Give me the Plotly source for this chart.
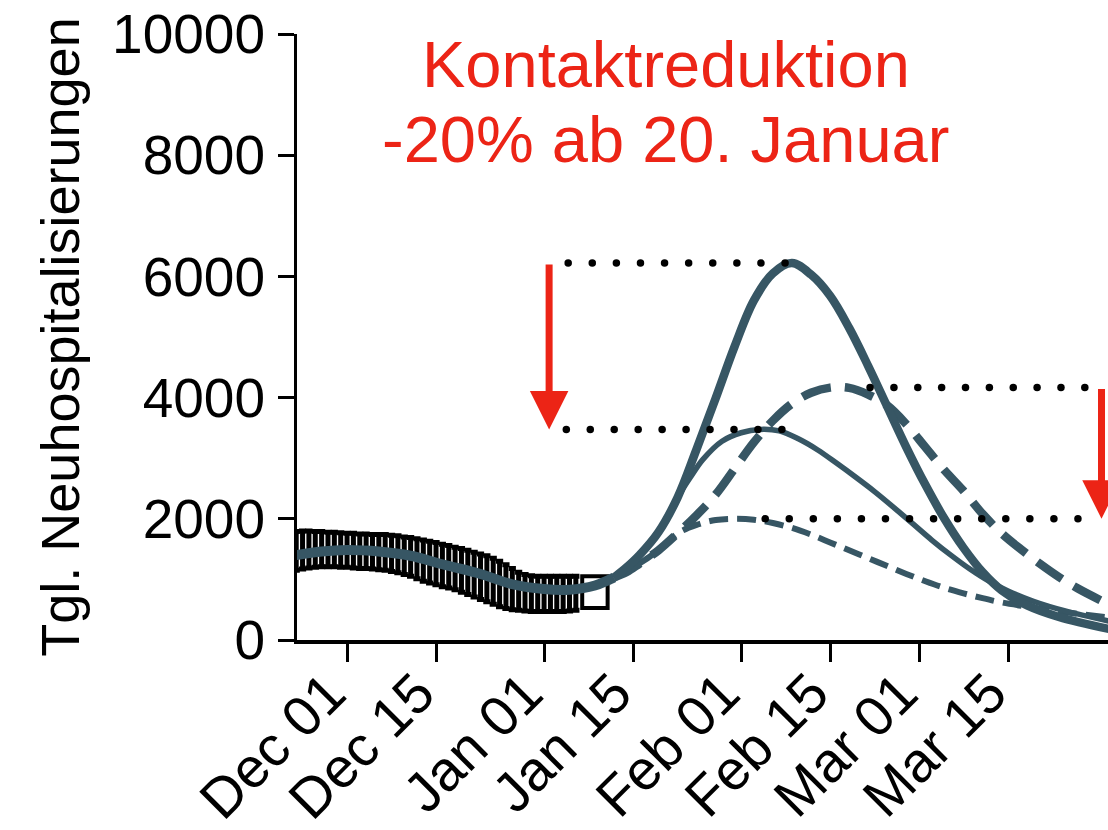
import pandas as pd
import plotly.graph_objects as go

FONT = "Liberation Sans, Arial, Helvetica, sans-serif"
CURVE = "#375664"
RED = "#EC2416"

# Reported daily admissions: lower / upper bound per day from 23 Nov 2020
obs_start = "2020-11-23"
obs_low = [1150, 1170, 1190, 1200, 1210, 1210, 1210, 1200, 1200, 1190,
           1180, 1180, 1170, 1160, 1150, 1130, 1110, 1080, 1050, 1010,
           970, 940, 910, 880, 860, 830, 790, 750, 710, 670,
           630, 590, 550, 520, 500, 490, 480, 470, 470, 470,
           470, 470, 470, 480, 490]
obs_high = [1790, 1800, 1800, 1790, 1790, 1780, 1780, 1770, 1760, 1760,
            1750, 1750, 1740, 1740, 1740, 1730, 1720, 1700, 1690, 1670,
            1650, 1630, 1610, 1580, 1560, 1530, 1510, 1480, 1450, 1420,
            1390, 1350, 1300, 1240, 1180, 1120, 1080, 1060, 1050, 1050,
            1050, 1050, 1050, 1050, 1050]

# Most recent, still incomplete reporting window
recent_window = ["2021-01-07", "2021-01-11"]
recent_low = 530
recent_high = 1050

# Model fit to the reported period
fit_dates = ["2020-11-23", "2020-11-27", "2020-12-01", "2020-12-06", "2020-12-11",
             "2020-12-16", "2020-12-22", "2020-12-27", "2021-01-01", "2021-01-05",
             "2021-01-09", "2021-01-12"]
fit_vals = [1400, 1460, 1485, 1460, 1390, 1250, 1090, 920, 840, 830, 900, 1030]

# Scenario A, without contact reduction
a_dates = ["2021-01-12", "2021-01-14", "2021-01-16", "2021-01-19", "2021-01-22",
           "2021-01-25", "2021-01-28", "2021-01-31", "2021-02-03", "2021-02-06",
           "2021-02-09", "2021-02-12", "2021-02-15", "2021-02-18", "2021-02-21",
           "2021-02-24", "2021-02-27", "2021-03-02", "2021-03-05", "2021-03-08",
           "2021-03-11", "2021-03-14", "2021-03-18", "2021-03-23", "2021-03-31"]
a_vals = [1030, 1200, 1400, 1780, 2350, 3150, 3990, 4850, 5600, 6050,
          6220, 6030, 5680, 5150, 4520, 3850, 3180, 2560, 2000, 1520,
          1120, 820, 570, 380, 180]

# Scenario A, contact reduction -20% from 20 January
a_red_dates = ["2021-01-12", "2021-01-14", "2021-01-16", "2021-01-19", "2021-01-22",
               "2021-01-24", "2021-01-26", "2021-01-29", "2021-02-01", "2021-02-04",
               "2021-02-07", "2021-02-10", "2021-02-13", "2021-02-16", "2021-02-19",
               "2021-02-22", "2021-02-25", "2021-02-28", "2021-03-03", "2021-03-06",
               "2021-03-09", "2021-03-12", "2021-03-15", "2021-03-19", "2021-03-24",
               "2021-03-31"]
a_red_vals = [1030, 1200, 1400, 1780, 2350, 2680, 2980, 3280, 3420, 3475,
              3450, 3320, 3140, 2920, 2690, 2450, 2190, 1920, 1650, 1400,
              1170, 970, 810, 640, 480, 310]

# Scenario B, without contact reduction
b_dates = ["2021-01-12", "2021-01-14", "2021-01-16", "2021-01-19", "2021-01-22",
           "2021-01-25", "2021-01-28", "2021-01-31", "2021-02-03", "2021-02-06",
           "2021-02-09", "2021-02-12", "2021-02-15", "2021-02-18", "2021-02-21",
           "2021-02-24", "2021-02-27", "2021-03-02", "2021-03-05", "2021-03-08",
           "2021-03-11", "2021-03-14", "2021-03-17", "2021-03-20", "2021-03-23",
           "2021-03-26", "2021-03-31"]
b_vals = [1030, 1120, 1260, 1480, 1760, 2060, 2400, 2830, 3260, 3620,
          3900, 4080, 4165, 4160, 4050, 3870, 3560, 3180, 2800, 2460,
          2080, 1760, 1500, 1260, 1040, 850, 580]

# Scenario B, contact reduction -20% from 20 January
b_red_dates = ["2021-01-12", "2021-01-14", "2021-01-16", "2021-01-19", "2021-01-22",
               "2021-01-25", "2021-01-28", "2021-01-31", "2021-02-03", "2021-02-06",
               "2021-02-09", "2021-02-12", "2021-02-15", "2021-02-18", "2021-02-21",
               "2021-02-24", "2021-02-27", "2021-03-02", "2021-03-05", "2021-03-08",
               "2021-03-11", "2021-03-14", "2021-03-18", "2021-03-23", "2021-03-31"]
b_red_vals = [1030, 1120, 1260, 1480, 1760, 1900, 1980, 2000, 1985, 1930,
              1850, 1740, 1610, 1480, 1350, 1220, 1090, 970, 860, 770,
              690, 620, 550, 470, 370]

tick_dates = ["2020-12-01", "2020-12-15", "2021-01-01", "2021-01-15",
              "2021-02-01", "2021-02-15", "2021-03-01", "2021-03-15"]
tick_labels = ["Dec 01", "Dec 15", "Jan 01", "Jan 15",
               "Feb 01", "Feb 15", "Mar 01", "Mar 15"]
y_ticks = [0, 2000, 4000, 6000, 8000, 10000]
y_tick_labels = ["0", "2000", "4000", "6000", "8000", "10000"]

title_lines = ["Kontaktreduktion", "-20% ab 20. Januar"]
y_title = "Tgl. Neuhospitalisierungen"

fig = go.Figure()

# daily reported ranges as capped bars
obs_dates = pd.date_range(obs_start, periods=len(obs_low), freq="D")
obs_mid = [(lo + hi) / 2 for lo, hi in zip(obs_low, obs_high)]
fig.add_trace(go.Scatter(
    x=obs_dates, y=obs_mid, mode="markers",
    marker=dict(size=1, color="rgba(0,0,0,0)"),
    error_y=dict(type="data", symmetric=False,
                 array=[hi - m for hi, m in zip(obs_high, obs_mid)],
                 arrayminus=[m - lo for lo, m in zip(obs_low, obs_mid)],
                 color="black", thickness=5, width=3.6),
    hoverinfo="skip", showlegend=False))

# incomplete window as an open box
t0, t1 = pd.to_datetime(recent_window[0]), pd.to_datetime(recent_window[1])
fig.add_trace(go.Bar(
    x=[t0 + (t1 - t0) / 2], y=[recent_high - recent_low], base=[recent_low],
    width=[(t1 - t0).total_seconds() * 1000],
    marker=dict(color="white", line=dict(color="black", width=4)),
    hoverinfo="skip", showlegend=False))

fig.add_trace(go.Scatter(x=fit_dates, y=fit_vals, mode="lines",
                         line=dict(color=CURVE, width=10, shape="spline"),
                         showlegend=False))

fig.add_trace(go.Scatter(x=b_red_dates, y=b_red_vals, mode="lines",
                         line=dict(color=CURVE, width=6, shape="spline", dash="19px,9px"),
                         showlegend=False))
fig.add_trace(go.Scatter(x=b_dates, y=b_vals, mode="lines",
                         line=dict(color=CURVE, width=8.5, shape="spline", dash="30px,14px"),
                         showlegend=False))
fig.add_trace(go.Scatter(x=a_red_dates, y=a_red_vals, mode="lines",
                         line=dict(color=CURVE, width=5.5, shape="spline"),
                         showlegend=False))
fig.add_trace(go.Scatter(x=a_dates, y=a_vals, mode="lines",
                         line=dict(color=CURVE, width=8.5, shape="spline"),
                         showlegend=False))

# dotted guides at the scenario peaks
guides = [
    ("2021-01-04 19:00", "2021-02-07 22:00", 10, max(a_vals)),
    ("2021-01-04 12:00", "2021-02-07 10:00", 10, max(a_red_vals)),
    ("2021-02-21 07:00", "2021-03-27 02:00", 10, max(b_vals)),
    ("2021-02-04 19:00", "2021-03-26 00:00", 14, max(b_red_vals)),
]
for start, end, n, level in guides:
    fig.add_trace(go.Scatter(
        x=pd.date_range(start, end, periods=n), y=[level] * n, mode="markers",
        marker=dict(color="black", size=7.5), hoverinfo="skip", showlegend=False))

# arrows from unreduced to reduced peak
for xdate, top, bottom in [("2021-01-01 19:00", max(a_vals), max(a_red_vals)),
                           ("2021-03-29 17:00", max(b_vals), max(b_red_vals))]:
    fig.add_annotation(x=xdate, y=bottom, ax=xdate, ay=top, xref="x", yref="y",
                       axref="x", ayref="y", text="", showarrow=True,
                       arrowhead=2, arrowsize=1.1, arrowwidth=7, arrowcolor=RED,
                       standoff=0, startstandoff=0)

# two-line heading, boxes meeting at the line boundary
fig.add_annotation(x=0.4545, y=0.888, xref="paper", yref="paper",
                   text=title_lines[0], showarrow=False, xanchor="center",
                   yanchor="bottom", borderpad=0,
                   font=dict(family=FONT, size=65, color=RED))
fig.add_annotation(x=0.4545, y=0.888, xref="paper", yref="paper",
                   text=title_lines[1], showarrow=False, xanchor="center",
                   yanchor="top", borderpad=0,
                   font=dict(family=FONT, size=65, color=RED))

fig.update_layout(
    width=1108, height=830,
    margin=dict(l=297, r=0, t=34, b=190, pad=0),
    paper_bgcolor="white", plot_bgcolor="white",
    font=dict(family=FONT, color="black"),
    showlegend=False,
    xaxis=dict(type="date", range=["2020-11-23 03:00", "2021-03-30 17:30"],
               tickvals=tick_dates, ticktext=tick_labels, tickangle=-45,
               tickfont=dict(size=56, family=FONT, color="black"),
               showline=True, linecolor="black", linewidth=3.5,
               ticks="outside", ticklen=18, tickwidth=3, tickcolor="black",
               ticklabelstandoff=-24, ticklabelshift=-18,
               showgrid=False, zeroline=False, automargin=False),
    yaxis=dict(range=[0, 10000], tickvals=y_ticks, ticktext=y_tick_labels,
               tickfont=dict(size=55, family=FONT, color="black"),
               showline=True, linecolor="black", linewidth=3,
               ticks="outside", ticklen=16, tickwidth=3, tickcolor="black",
               ticklabelstandoff=2,
               title=dict(text=y_title, font=dict(size=54, family=FONT, color="black"),
                          standoff=16),
               showgrid=False, zeroline=False, automargin=False),
)

fig.write_html("out.html")
